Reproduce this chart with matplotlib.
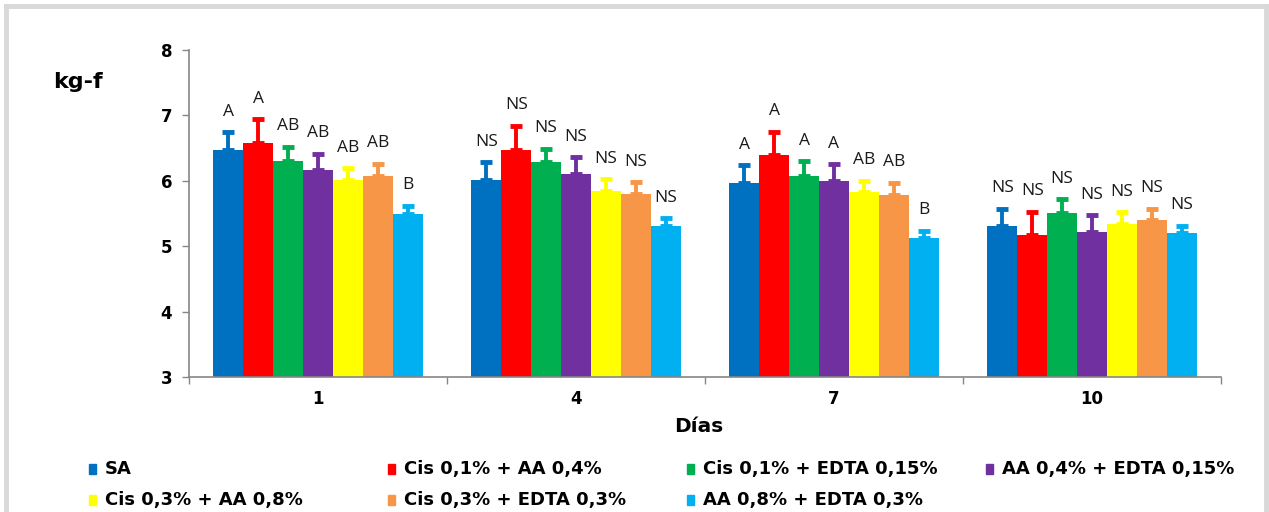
import matplotlib
matplotlib.use("Agg")
import matplotlib.pyplot as plt
from matplotlib.patches import Rectangle
from matplotlib.lines import Line2D
import numpy as np

days = ["1", "4", "7", "10"]
series = ["SA", "Cis 0,1% + AA 0,4%", "Cis 0,1% + EDTA 0,15%", "AA 0,4% + EDTA 0,15%",
          "Cis 0,3% + AA 0,8%", "Cis 0,3% + EDTA 0,3%", "AA 0,8% + EDTA 0,3%"]
colors = ["#0070C0", "#FF0000", "#00B050", "#7030A0", "#FFFF00", "#F79646", "#00B0F0"]

sa = [6.47, 6.01, 5.97, 5.31]
cis01_aa04 = [6.58, 6.47, 6.39, 5.17]
cis01_edta015 = [6.30, 6.28, 6.08, 5.51]
aa04_edta015 = [6.16, 6.10, 6.00, 5.22]
cis03_aa08 = [6.01, 5.85, 5.83, 5.34]
cis03_edta03 = [6.08, 5.80, 5.79, 5.40]
aa08_edta03 = [5.50, 5.31, 5.13, 5.20]
values = [sa, cis01_aa04, cis01_edta015, aa04_edta015, cis03_aa08, cis03_edta03, aa08_edta03]

err_sa = [0.27, 0.27, 0.27, 0.26]
err_cis01_aa04 = [0.36, 0.37, 0.36, 0.36]
err_cis01_edta015 = [0.22, 0.21, 0.22, 0.21]
err_aa04_edta015 = [0.25, 0.26, 0.25, 0.25]
err_cis03_aa08 = [0.18, 0.17, 0.17, 0.18]
err_cis03_edta03 = [0.18, 0.18, 0.18, 0.17]
err_aa08_edta03 = [0.12, 0.12, 0.11, 0.11]
errors = [err_sa, err_cis01_aa04, err_cis01_edta015, err_aa04_edta015,
          err_cis03_aa08, err_cis03_edta03, err_aa08_edta03]

labels_day1 = ["A", "A", "AB", "AB", "AB", "AB", "B"]
labels_day4 = ["NS"] * 7
labels_day7 = ["A", "A", "A", "A", "AB", "AB", "B"]
labels_day10 = ["NS"] * 7
sig_labels = [labels_day1, labels_day4, labels_day7, labels_day10]

y_ticks = [3, 4, 5, 6, 7, 8]

BOLD = "DejaVu Sans"

W, H = 1269, 512
fig = plt.figure(figsize=(W / 100, H / 100), dpi=100)
fig.patch.set_facecolor("white")

# outer light-gray frame
for xs, ys in [([6, 6], [0, 506]), ([6, 1266], [506, 506]), ([1266, 1266], [0, 506])]:
    fig.add_artist(Line2D(np.array(xs) / W, np.array(ys) / H, color="#D9D9D9", lw=3.5,
                          transform=fig.transFigure))

ax = fig.add_axes([189 / W, (H - 377) / H, (1221 - 189) / W, (377 - 50) / H])

n = len(series)
bw = 0.1159
x = np.arange(len(days))
gray = "#868686"
for i in range(n):
    off = (i - (n - 1) / 2) * bw
    xpos = x + off
    ax.bar(xpos, values[i], bw, bottom=0, color=colors[i], edgecolor="none", zorder=2)
    ax.errorbar(xpos, values[i], yerr=[np.zeros(len(days)), errors[i]], fmt="none",
                ecolor=colors[i], elinewidth=2.8, capsize=4.5, capthick=3.5, zorder=3)
    for j in range(len(days)):
        ax.annotate(sig_labels[j][i], (xpos[j], values[i][j] + errors[i][j]),
                    xytext=(0, 9), textcoords="offset points", ha="center", va="bottom",
                    fontsize=12.5, color="#1a1a1a", family=["Open Sans", "DejaVu Sans"])

ax.set_ylim(3, 8)
ax.set_xlim(-0.5, len(days) - 0.5)
ax.set_yticks(y_ticks)
ax.set_yticklabels([str(t) for t in y_ticks], fontsize=12, fontweight="bold", family=BOLD)
ax.set_xticks(x)
ax.set_xticklabels(days, fontsize=12, fontweight="bold", family=BOLD)
ax.tick_params(axis="x", which="major", length=0, pad=9)
ax.set_xticks(np.arange(len(days) + 1) - 0.5, minor=True)
ax.tick_params(axis="x", which="minor", length=5, color=gray, width=1)
ax.tick_params(axis="y", length=5, color=gray, width=1, pad=7)
for s in ["top", "right"]:
    ax.spines[s].set_visible(False)
for s in ["left", "bottom"]:
    ax.spines[s].set_color(gray)
    ax.spines[s].set_linewidth(1.2)

fig.text(699 / W, 1 - 426 / H, "Días", ha="center", va="center", fontsize=14.5,
         fontweight="bold", family=BOLD)
fig.text(53 / W, 1 - 82 / H, "kg-f", ha="left", va="center", fontsize=16,
         fontweight="bold", family=BOLD)

# legend (manual, fixed column grid)
marker_x = [89, 388, 687, 986]
text_x = [105, 404, 703, 1002]
row_y = [469, 500]
for i, name in enumerate(series):
    r, c = divmod(i, 4)
    my = row_y[r]
    fig.add_artist(Rectangle((marker_x[c] / W, (H - my - 5) / H), 7 / W, 10 / H,
                             transform=fig.transFigure, color=colors[i]))
    fig.text(text_x[c] / W, 1 - my / H, name, ha="left", va="center", fontsize=13,
             fontweight="bold", family=BOLD)

fig.savefig("out.png", dpi=100, facecolor="white")
